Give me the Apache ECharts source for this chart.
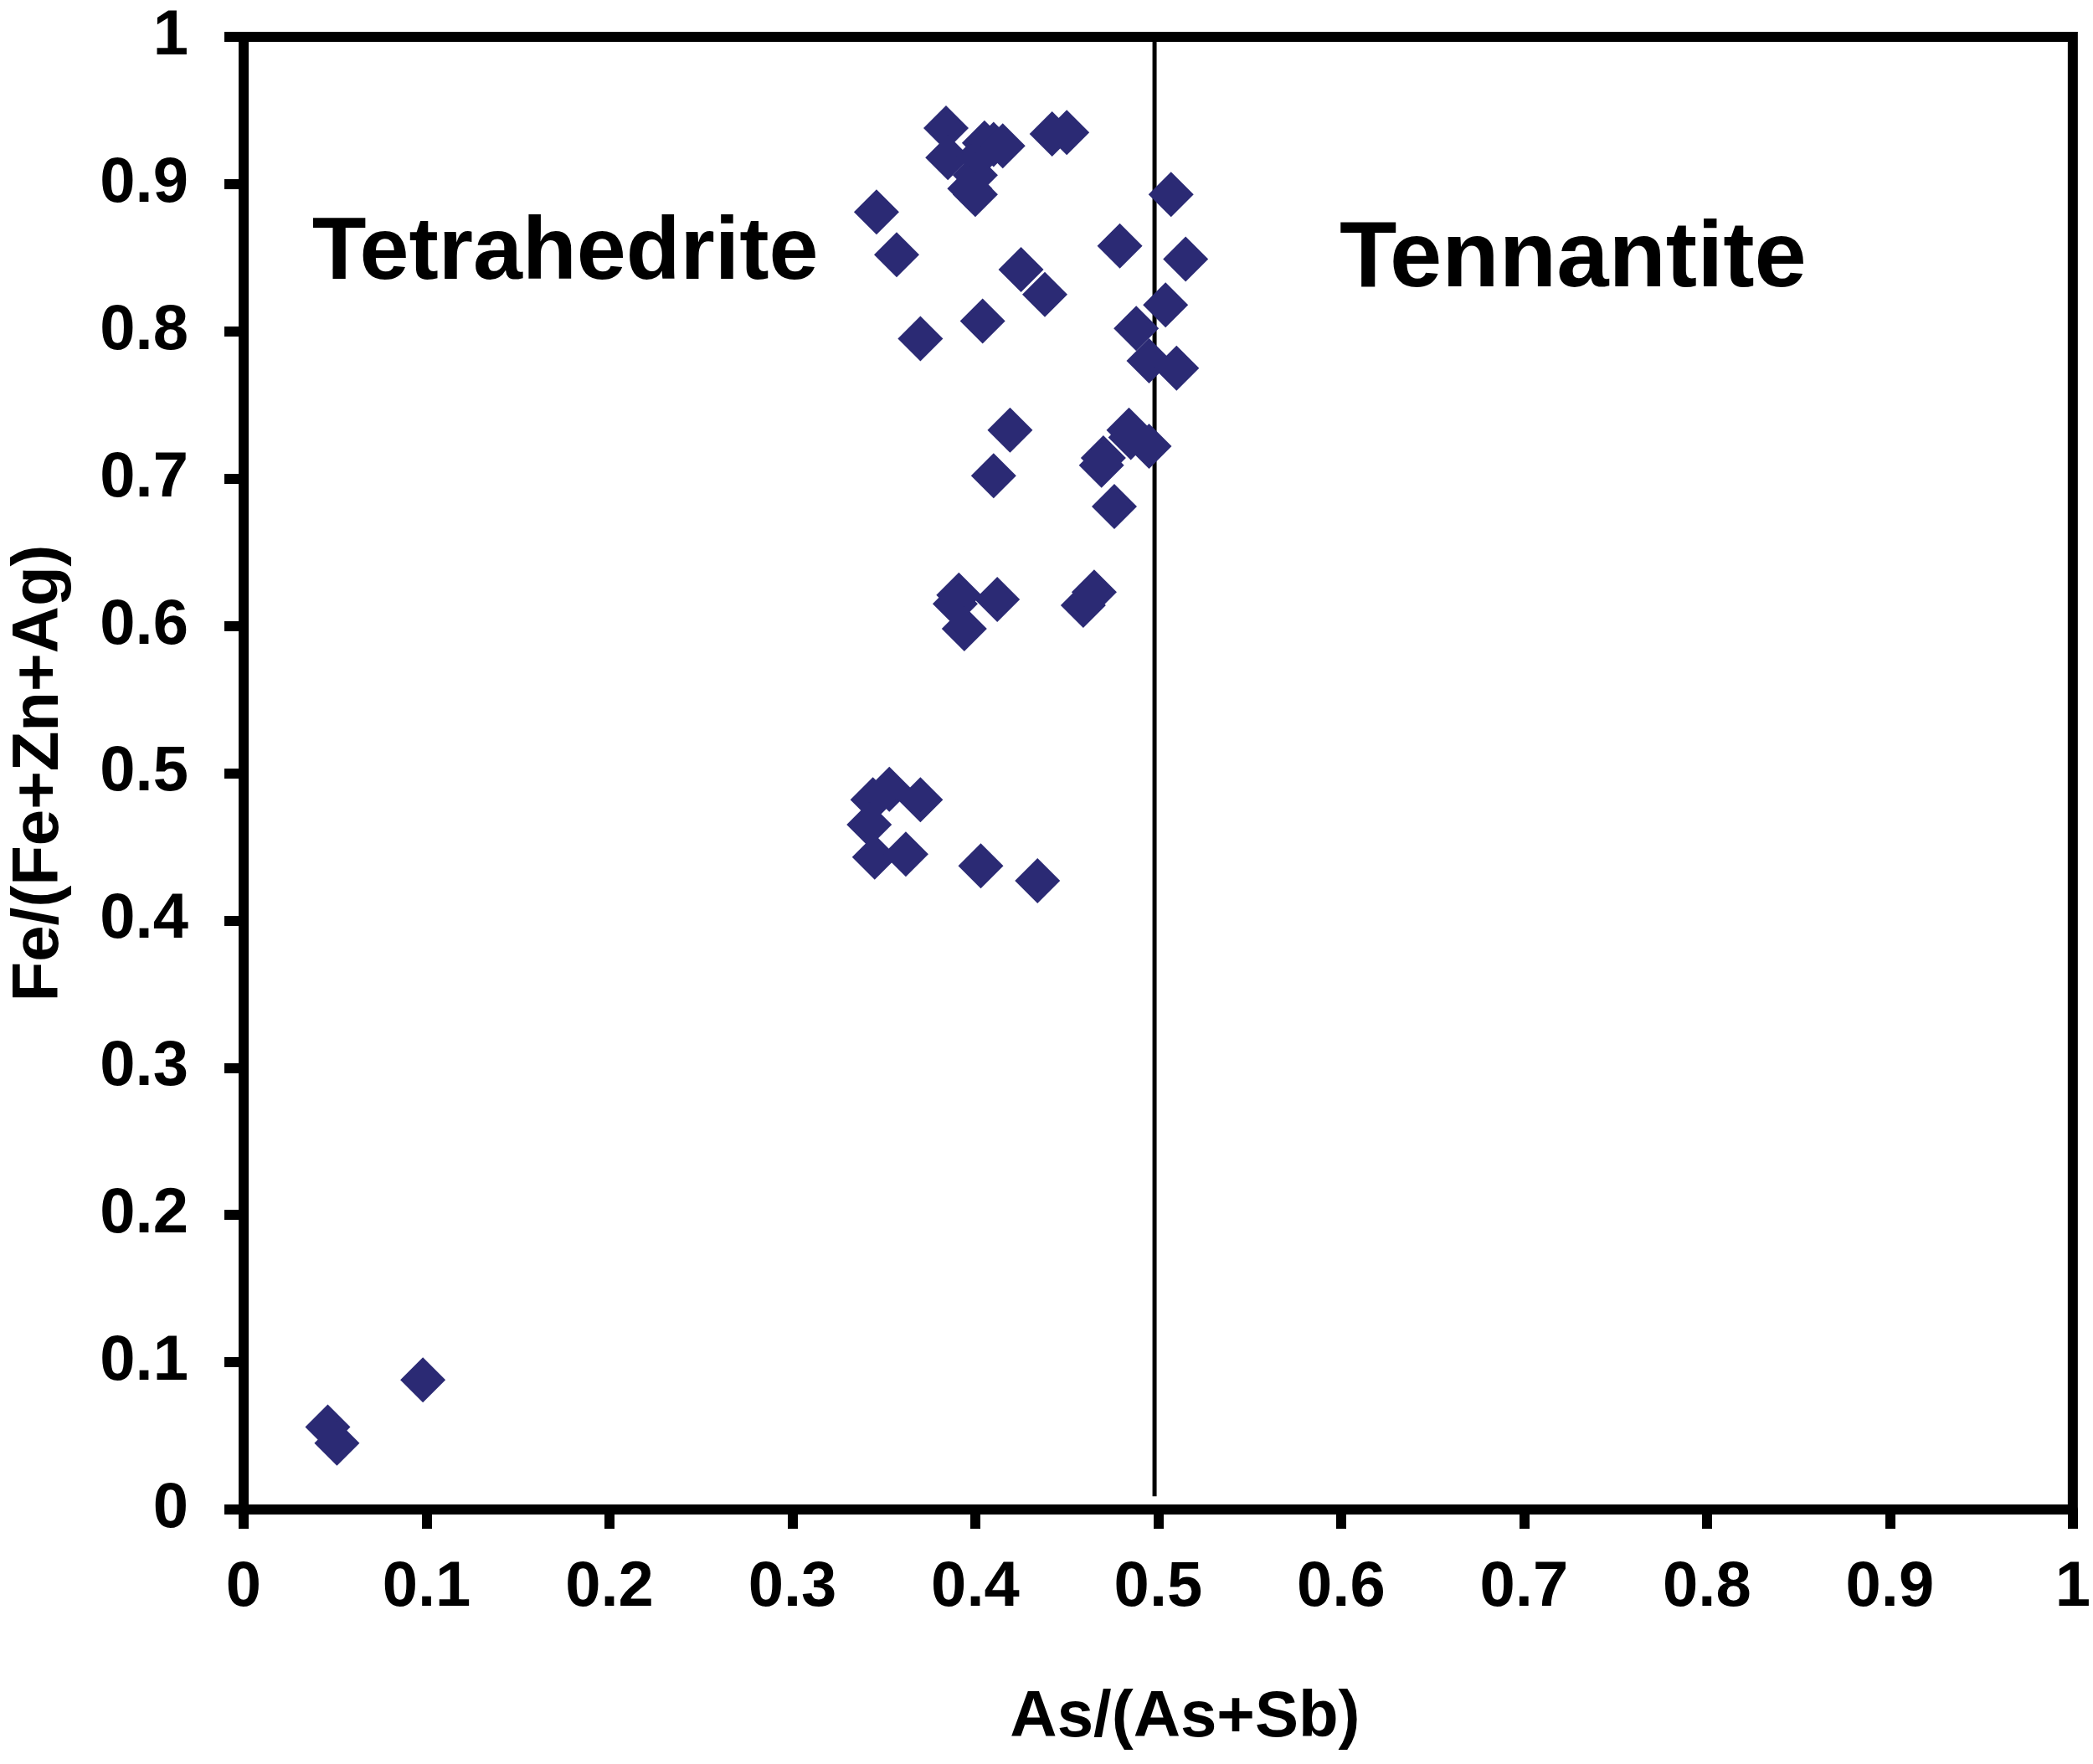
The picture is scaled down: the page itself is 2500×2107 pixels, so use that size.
<!DOCTYPE html>
<html>
<head>
<meta charset="utf-8">
<script src="https://cdn.jsdelivr.net/npm/echarts@6/dist/echarts.min.js"></script>
<style>
  html, body { margin: 0; padding: 0; background: #fff; }
  #chart { width: 2500px; height: 2107px; }
</style>
</head>
<body>
<div id="chart"></div>
<script>
// As/(As+Sb) vs Fe/(Fe+Zn+Ag) for fahlore analyses
const asRatio = [
  0.384, 0.385, 0.402, 0.405, 0.410, 0.415, 0.400, 0.397, 0.400, 0.442,
  0.450, 0.507, 0.346, 0.357, 0.479, 0.515, 0.425, 0.438, 0.504, 0.404,
  0.370, 0.488, 0.495, 0.510, 0.419, 0.484, 0.485, 0.495, 0.470, 0.469,
  0.410, 0.476, 0.391, 0.389, 0.412, 0.394, 0.465, 0.459, 0.353, 0.344,
  0.370, 0.342, 0.345, 0.362, 0.403, 0.434, 0.098, 0.046, 0.051
]
const feRatio = [
  0.938, 0.918, 0.919, 0.928, 0.927, 0.926, 0.906, 0.897, 0.893, 0.934,
  0.935, 0.893, 0.881, 0.852, 0.858, 0.849, 0.842, 0.825, 0.818, 0.807,
  0.795, 0.802, 0.780, 0.775, 0.733, 0.733, 0.728, 0.722, 0.714, 0.709,
  0.702, 0.681, 0.621, 0.615, 0.618, 0.598, 0.623, 0.614, 0.489, 0.482,
  0.482, 0.465, 0.443, 0.445, 0.437, 0.427, 0.088, 0.056, 0.045
]

// tetrahedrite / tennantite boundary
const dividerX = [0.498, 0.498]
const dividerY = [0.009, 1.0]

// field names, placed in data coordinates
const fieldNames = ['Tetrahedrite', 'Tennantite']
const fieldX = [0.176, 0.727]
const fieldY = [0.852, 0.848]

const tickValues = [0, 0.1, 0.2, 0.3, 0.4, 0.5, 0.6, 0.7, 0.8, 0.9, 1]

const font = "'Liberation Sans', Arial, sans-serif"
const markerColor = '#2B2A74'
const fieldFontSizes = [106, 112]

const chart = echarts.init(document.getElementById('chart'), null, { renderer: 'canvas' })

const axisCommon = {
  type: 'value',
  min: tickValues[0],
  max: tickValues[tickValues.length - 1],
  interval: 0.1,
  nameLocation: 'middle',
  nameTextStyle: { fontFamily: font, fontWeight: 'bold', fontSize: 78, color: '#000' },
  axisLine: { show: true, onZero: false, lineStyle: { color: '#000', width: 12 } },
  axisTick: { show: true, inside: false, length: 23, lineStyle: { color: '#000', width: 12 } },
  axisLabel: { fontFamily: font, fontWeight: 'bold', fontSize: 76, color: '#000' },
  splitLine: { show: false }
}

chart.setOption({
  animation: false,
  backgroundColor: '#fff',
  grid: {
    left: 291,
    right: 22,
    top: 44,
    bottom: 304,
    show: true,
    borderColor: '#000',
    borderWidth: 12,
    containLabel: false
  },
  xAxis: Object.assign({}, axisCommon, {
    name: 'As/(As+Sb)',
    nameGap: 210,
    nameTextStyle: Object.assign({}, axisCommon.nameTextStyle, { padding: [0, 0, 0, 64] }),
    axisLabel: Object.assign({}, axisCommon.axisLabel, { margin: 56 })
  }),
  yAxis: Object.assign({}, axisCommon, {
    name: 'Fe/(Fe+Zn+Ag)',
    nameGap: 205,
    axisLabel: Object.assign({}, axisCommon.axisLabel, { margin: 66 })
  }),
  series: [
    {
      name: 'divider',
      type: 'line',
      data: dividerX.map((x, i) => [x, dividerY[i]]),
      symbol: 'none',
      lineStyle: { color: '#000', width: 5 },
      silent: true,
      z: 1
    },
    {
      name: 'analyses',
      type: 'scatter',
      data: asRatio.map((x, i) => [x, feRatio[i]]),
      symbol: 'diamond',
      symbolSize: 54,
      itemStyle: { color: markerColor, opacity: 1 },
      z: 3
    },
    {
      name: 'fields',
      type: 'scatter',
      data: fieldNames.map((n, i) => ({
        name: n,
        value: [fieldX[i], fieldY[i]],
        label: { fontSize: fieldFontSizes[i] }
      })),
      symbol: 'circle',
      symbolSize: 1,
      itemStyle: { color: 'rgba(0,0,0,0)' },
      silent: true,
      label: {
        show: true,
        position: [0, 0],
        align: 'center',
        verticalAlign: 'middle',
        formatter: p => p.name,
        fontFamily: font,
        fontWeight: 'bold',
        fontSize: 106,
        color: '#000000',
        opacity: 1,
        textBorderWidth: 0
      },
      z: 4
    }
  ]
})
</script>
</body>
</html>
